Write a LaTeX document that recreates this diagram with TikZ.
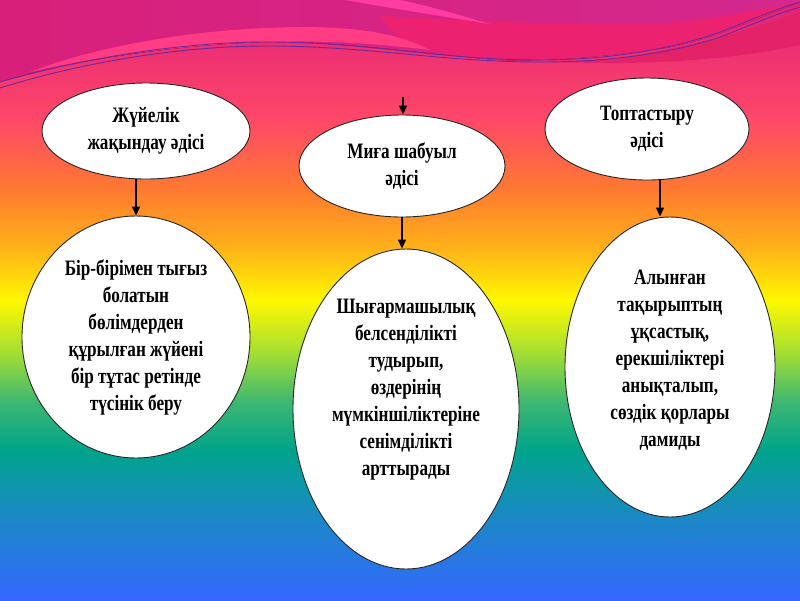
\documentclass[tikz,border=0pt]{standalone}
\usepackage{fontspec}
\setmainfont[FakeStretch=0.78]{Liberation Serif}
\usetikzlibrary{shapes.geometric,arrows.meta,calc}
\definecolor{c0}{HTML}{E0207A}
\definecolor{c1}{HTML}{FF4868}
\definecolor{c2}{HTML}{FF7A30}
\definecolor{c3}{HTML}{FFB418}
\definecolor{c4}{HTML}{FFF800}
\definecolor{c5}{HTML}{A8E030}
\definecolor{c6}{HTML}{40B870}
\definecolor{c7}{HTML}{00A48C}
\definecolor{c8}{HTML}{1C88C8}
\definecolor{c9}{HTML}{3466FF}
\definecolor{wavetopl}{HTML}{D8207A}
\definecolor{wavetopr}{HTML}{D4288E}
\definecolor{waveband}{HTML}{FF3C84}
\definecolor{wavered}{HTML}{EC2270}
\definecolor{wavesliver}{HTML}{FF3CA0}
\definecolor{wavedark}{HTML}{E42268}
\definecolor{waveline}{HTML}{6E2A9A}
\tikzset{
  oval/.style={ellipse, draw=black!85, line width=0.9pt, fill=white, inner sep=0pt},
  txt/.style={align=center, font=\fontsize{22}{27}\selectfont\bfseries},
  conn/.style={line width=1.3pt, -{Triangle[length=9pt,width=8pt]}},
}
\begin{document}
\begin{tikzpicture}[x=1pt,y=-1pt]
\useasboundingbox (0,0) rectangle (800,600);
% rainbow background
\fill[top color=c0,bottom color=c1] (0,-0.5) rectangle (800,120.5);
\fill[top color=c1,bottom color=c2] (0,120) rectangle (800,190.5);
\fill[top color=c2,bottom color=c3] (0,190) rectangle (800,250.5);
\fill[top color=c3,bottom color=c4] (0,250) rectangle (800,300.5);
\fill[top color=c4,bottom color=c5] (0,300) rectangle (800,350.5);
\fill[top color=c5,bottom color=c6] (0,350) rectangle (800,400.5);
\fill[top color=c6,bottom color=c7] (0,400) rectangle (800,450.5);
\fill[top color=c7,bottom color=c8] (0,450) rectangle (800,520.5);
\fill[top color=c8,bottom color=c9] (0,520) rectangle (800,600.5);
% top swoosh
\fill[wavedark] (560,62) .. controls (640,60) and (720,40) .. (800,12)
  -- (800,45) .. controls (740,58) and (660,66) .. (560,62) -- cycle;
\fill[left color=wavetopl, right color=wavetopr] (0,0) -- (800,0) -- (800,2)
  .. controls (740,25) and (700,45) .. (650,50)
  .. controls (600,57) and (540,62) .. (500,60)
  .. controls (440,56) and (340,40) .. (267,42)
  .. controls (180,44) and (60,62) .. (0,82) -- cycle;
\fill[wavered] (380,16) .. controls (460,20) and (600,28) .. (680,22)
  .. controls (730,16) and (770,8) .. (800,2)
  .. controls (740,25) and (700,45) .. (650,50)
  .. controls (600,57) and (540,62) .. (500,60)
  .. controls (440,56) and (400,48) .. (380,16) -- cycle;
\fill[waveband] (30,72) .. controls (100,45) and (200,28) .. (300,27)
  .. controls (360,27) and (400,34) .. (430,50)
  .. controls (380,44) and (330,40) .. (267,42)
  .. controls (180,44) and (80,60) .. (30,72) -- cycle;
\fill[wavesliver] (345,0) .. controls (390,8) and (440,16) .. (490,24)
  .. controls (450,12) and (420,4) .. (400,0) -- cycle;
\draw[waveline, line width=0.9pt] (0,82) .. controls (70,62) and (170,42) .. (267,42)
  .. controls (370,42) and (440,60) .. (540,60)
  .. controls (620,60) and (690,45) .. (733,27)
  .. controls (760,16) and (780,8) .. (800,2);
\draw[waveline, line width=0.9pt] (0,88) .. controls (70,66) and (170,46) .. (267,46)
  .. controls (370,46) and (440,62) .. (540,62)
  .. controls (620,62) and (690,50) .. (733,32)
  .. controls (760,21) and (780,13) .. (800,7);
% nodes
\node[oval, txt, minimum width=208pt, minimum height=96pt] (e1) at (146,131)
  {Жүйелік\\жақындау әдісі};
\node[oval, txt, minimum width=228pt, minimum height=242pt] (e2) at (136,337)
  {Бір-бірімен тығыз\\болатын\\бөлімдерден\\құрылған жүйені\\бір тұтас ретінде\\түсінік беру};
\node[oval, txt, minimum width=206pt, minimum height=102pt] (e3) at (402,166)
  {Миға шабуыл\\әдісі};
\node[oval, minimum width=226pt, minimum height=320pt] (e4) at (406,409) {};
\node[txt] (t4) at ($(e4.center)+(0,-19)$)
  {Шығармашылық\\белсенділікті\\тудырып,\\өздерінің\\мүмкіншіліктеріне\\сенімділікті\\арттырады};
\node[oval, txt, minimum width=204pt, minimum height=102pt] (e5) at (647,129)
  {Топтастыру\\әдісі};
\node[oval, minimum width=210pt, minimum height=300pt] (e6) at (670,367) {};
\node[txt] (t6) at ($(e6.center)+(0,-7)$)
  {Алынған\\тақырыптың\\ұқсастық,\\ерекшіліктері\\анықталып,\\сөздік қорлары\\дамиды};
\coordinate (topin) at (403,97);
\coordinate (rx) at (660,0);
% connectors
\draw[conn] (e1.south -| e2.north) -- (e2.north);
\draw[conn] (topin) -- (topin |- e3.north);
\draw[conn] (e3.south) -- (e3.south |- e4.north);
\draw[conn] (e5.south -| rx) -- (e6.north -| rx);
\end{tikzpicture}
\end{document}
